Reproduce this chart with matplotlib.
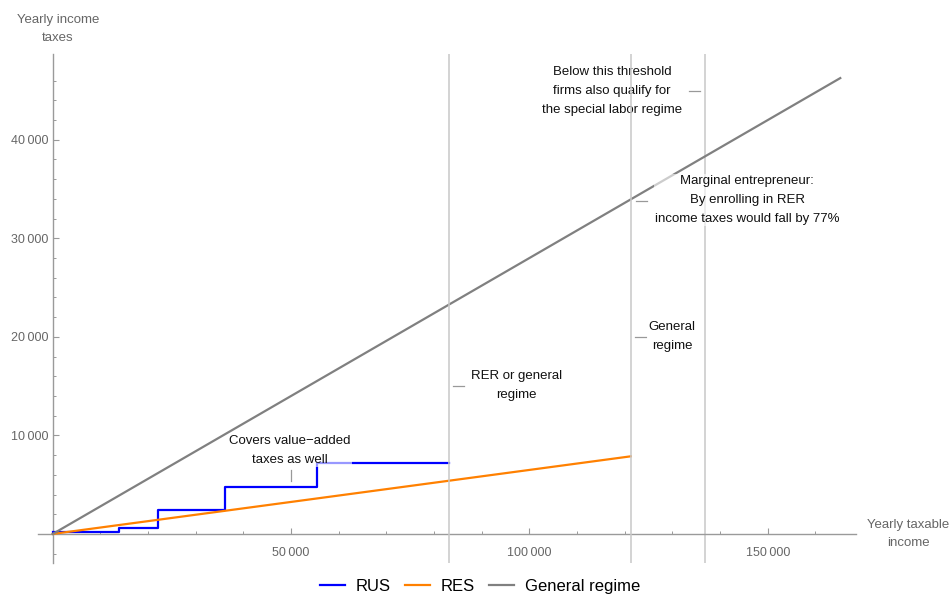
import matplotlib
matplotlib.use("Agg")
import matplotlib.pyplot as plt
import numpy as np

plt.rcParams['font.family'] = ['Liberation Sans', 'DejaVu Sans']

# ---- data ----
rus_x = [0, 13860, 22170, 36030, 55430, 83150]      # category breakpoints
rus_y = [240, 600, 2400, 4800, 7200, 7200]          # yearly tax per category
res_x = [0, 121250]
res_y = [0, 7875]
gen_x = [0, 165200]
gen_y = [0, 46256]
thresholds = [83150, 121250, 136840]

x_ticks = [50000, 100000, 150000]
y_ticks = [10000, 20000, 30000, 40000]

annotations = [
    # text, text centre (x, y), leader start, leader end
    ("Covers value\u2212added\ntaxes as well", (49800, 8460), (50000, 5420), (50000, 6530)),
    ("RER or general\nregime", (97200, 15050), (84000, 15000), (86300, 15000)),
    ("General\nregime", (129900, 20000), (122200, 20000), (124500, 20000)),
    ("Below this threshold\nfirms also qualify for\nthe special labor regime", (117300, 44930), (133500, 44900), (135800, 44900)),
    ("Marginal entrepreneur:\nBy enrolling in RER\nincome taxes would fall by 77%", (145700, 33890), (122400, 33820), (124700, 33820)),
]

fig = plt.figure(figsize=(9.53, 5.96), dpi=100)
ax = fig.add_axes([38/953, 33/596, 818/953, 509/596])

axis_col = '#9a9a9a'
for i, t in enumerate(thresholds):
    ax.axvline(t, color='#c8c8c8', lw=1.1, zorder=6 if i < 2 else 1)

ax.step(rus_x, rus_y, where='post', color='#0000ff', lw=1.6, label='RUS', zorder=3)
ax.plot(res_x, res_y, color='#ff8000', lw=1.6, label='RES', zorder=3)
ax.plot(gen_x, gen_y, color='#808080', lw=1.6, label='General regime', zorder=3)

for txt, (tx, ty), p0, p1 in annotations:
    ax.plot([p0[0], p1[0]], [p0[1], p1[1]], color='#999999', lw=0.9, zorder=4)
    ax.text(tx, ty, txt, ha='center', va='center', multialignment='center',
            fontsize=9.5, color='#111111', linespacing=1.75, zorder=5,
            bbox=dict(facecolor='white', alpha=0.6, edgecolor='none', pad=1.0))

ax.set_xlim(-3100, 168500)
ax.set_ylim(-2950, 48700)

for s in ['top', 'right']:
    ax.spines[s].set_visible(False)
ax.spines['left'].set_position(('data', 0))
ax.spines['bottom'].set_position(('data', 0))
for s in ['left', 'bottom']:
    ax.spines[s].set_color(axis_col)
    ax.spines[s].set_linewidth(1.0)

def fmt(v):
    return f"{v:,}".replace(",", "\u2009")

ax.set_xticks(x_ticks)
ax.set_xticklabels([fmt(v) for v in x_ticks])
ax.set_yticks(y_ticks)
ax.set_yticklabels([fmt(v) for v in y_ticks])
ax.set_xticks(np.arange(10000, 168000, 10000), minor=True)
ax.set_yticks(np.arange(-2000, 48000, 2000), minor=True)
ax.tick_params(axis='both', which='major', direction='in', length=4.5, width=0.8,
               color=axis_col, labelcolor='#666666', labelsize=9)
ax.tick_params(axis='both', which='minor', direction='in', length=2.5, width=0.7, color=axis_col)
ax.tick_params(axis='x', which='major', pad=9.5)
ax.tick_params(axis='y', which='major', pad=3)

fig.text(58/953, 1 - 29/596, "Yearly income\ntaxes", ha='center', va='center',
         fontsize=9.5, color='#666666', linespacing=1.75)
fig.text(908/953, 1 - 534/596, "Yearly taxable\nincome", ha='center', va='center',
         fontsize=9.5, color='#666666', linespacing=1.75)

fig.legend(loc='lower center', bbox_to_anchor=(0.504, -0.022), ncol=3, frameon=False,
           fontsize=12, handlelength=1.5, columnspacing=0.85, handletextpad=0.65)

fig.savefig('out.png', dpi=100)
